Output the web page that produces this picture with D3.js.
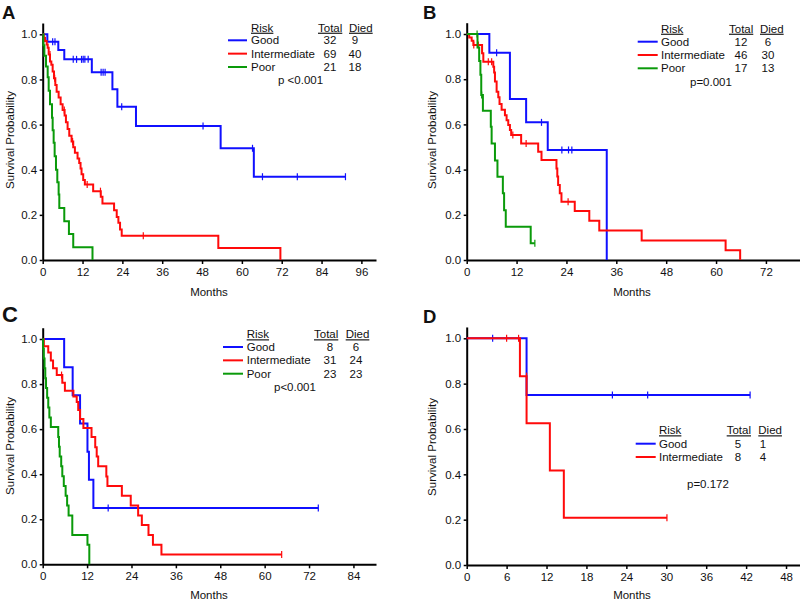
<!DOCTYPE html>
<html><head><meta charset="utf-8">
<script src="https://cdn.jsdelivr.net/npm/d3@7"></script>
<style>
body{margin:0;background:#fff}
svg{display:block}
text{font-family:"Liberation Sans",Arial,sans-serif;fill:#111}
</style>
</head><body>
<svg id="chart" width="800" height="600"></svg>
<script>
// ---------------- DATA ----------------
const panelLetters = ["A","B","C","D"];
const riskNames = ["Good","Intermediate","Poor"];
const riskColors = ["#1010ff","#ff0a0a","#0a9a0a"];
const pValues = ["p <0.001","p=0.001","p<0.001","p=0.172"];
const totalsA = [32,69,21], diedA = [9,40,18];
const totalsB = [12,46,17], diedB = [6,30,13];
const totalsC = [8,31,23],  diedC = [6,24,23];
const totalsD = [5,8],      diedD = [1,4];
const xTicksA = [0,12,24,36,48,60,72,84,96];
const xTicksB = [0,12,24,36,48,60,72];
const xTicksC = [0,12,24,36,48,60,72,84];
const xTicksD = [0,6,12,18,24,30,36,42,48];
const yTicks = [0,0.2,0.4,0.6,0.8,1.0];

// Kaplan-Meier steps: [month, survival after drop]
const aGoodSteps = [[1.4,0.967],[4.7,0.93],[6.5,0.889],[14.8,0.832],[21.0,0.756],[22.5,0.679],[28.1,0.594],[53.6,0.495],[63.6,0.369]];
const aGoodEnd = 91.2;
const aGoodCensor = [3.0,3.7,9.2,10.2,11.7,12.2,12.7,13.7,17.6,18.2,18.8,23.8,48.3,63.2,66.2,76.7,91.2];
const aInterSteps = [[0.3,0.985],[0.7,0.97],[1.2,0.955],[1.5,0.94],[1.8,0.91],[2.2,0.88],[2.6,0.865],[3.0,0.835],[3.4,0.805],[3.8,0.775],[4.2,0.745],[4.8,0.72],[5.4,0.69],[6.0,0.665],[6.6,0.64],[7.0,0.61],[7.5,0.58],[8.0,0.55],[8.7,0.525],[9.2,0.50],[9.7,0.475],[10.5,0.45],[11.0,0.43],[11.4,0.405],[11.7,0.38],[12.2,0.355],[12.7,0.335],[15.2,0.305],[17.5,0.28],[18.0,0.25],[21.5,0.22],[22.3,0.19],[22.8,0.165],[23.3,0.135],[23.8,0.107],[52.9,0.053],[71.6,0.0]];
const aInterEnd = 71.6;
const aInterCensor = [2.2,3.6,6.5,9.0,13.4,17.4,30.3];
const aPoorSteps = [[0.2,0.952],[0.5,0.905],[1.0,0.857],[1.5,0.81],[1.8,0.75],[2.2,0.69],[2.8,0.63],[3.0,0.575],[3.3,0.52],[3.6,0.46],[4.0,0.40],[4.4,0.345],[4.8,0.29],[5.0,0.23],[6.5,0.172],[7.9,0.115],[9.2,0.057],[15.0,0.0]];
const aPoorEnd = 15.0;
const aPoorCensor = [];

const bGoodSteps = [[5.45,0.917],[10.4,0.712],[14.3,0.609],[19.5,0.487],[33.7,0.0]];
const bGoodEnd = 33.7;
const bGoodCensor = [7.2,18.0,22.9,24.5,25.3];
const bInterSteps = [[0.6,0.985],[1.2,0.97],[1.6,0.951],[3.7,0.915],[4.0,0.877],[6.4,0.855],[6.6,0.83],[6.8,0.79],[7.2,0.745],[7.6,0.72],[7.9,0.69],[8.4,0.665],[9.2,0.64],[9.6,0.618],[10.0,0.597],[10.4,0.575],[10.7,0.553],[13.1,0.516],[17.2,0.479],[18.0,0.442],[21.6,0.405],[21.8,0.37],[22.0,0.332],[22.4,0.295],[22.8,0.258],[26.0,0.217],[29.5,0.174],[31.9,0.13],[42.1,0.086],[62.3,0.043],[65.8,0.0]];
const bInterEnd = 65.8;
const bInterCensor = [1.7,2.8,5.2,6.0,11.1,14.3,24.4];
const bPoorSteps = [[2.6,0.94],[3.0,0.88],[3.3,0.82],[3.5,0.73],[3.9,0.66],[5.8,0.59],[6.0,0.515],[6.8,0.44],[7.4,0.368],[8.7,0.295],[9.0,0.22],[9.4,0.147],[15.4,0.074]];
const bPoorEnd = 16.4;
const bPoorCensor = [2.5,3.6,16.4];

const cGoodSteps = [[5.8,0.875],[8.1,0.75],[10.1,0.625],[12.1,0.5],[12.5,0.375],[13.7,0.25]];
const cGoodEnd = 74.5;
const cGoodCensor = [17.7,74.5];
const cInterSteps = [[0.3,0.968],[1.5,0.94],[2.2,0.905],[2.8,0.87],[3.8,0.84],[5.3,0.806],[6.0,0.77],[8.3,0.745],[9.2,0.72],[9.6,0.685],[10.1,0.645],[11.0,0.605],[13.2,0.565],[14.2,0.52],[14.6,0.478],[15.0,0.435],[17.2,0.39],[17.5,0.348],[21.4,0.304],[23.8,0.261],[25.8,0.217],[26.8,0.174],[28.6,0.13],[29.8,0.087],[32.1,0.043]];
const cInterEnd = 64.6;
const cInterCensor = [5.1,64.6];
const cPoorSteps = [[0.1,0.957],[0.3,0.913],[0.5,0.87],[0.7,0.826],[0.9,0.783],[1.2,0.739],[1.5,0.696],[1.8,0.652],[2.2,0.609],[4.2,0.565],[4.4,0.522],[4.6,0.478],[5.0,0.435],[5.3,0.391],[5.7,0.348],[6.2,0.304],[6.6,0.261],[7.0,0.217],[8.0,0.13],[12.1,0.087],[12.6,0.0]];
const cPoorEnd = 12.6;
const cPoorCensor = [];

const dGoodSteps = [[9.0,0.75]];
const dGoodEnd = 42.6;
const dGoodCensor = [3.9,21.9,27.2,42.6];
const dInterSteps = [[8.0,0.833],[9.0,0.625],[12.5,0.417],[14.6,0.208]];
const dInterEnd = 30.1;
const dInterCensor = [6.0,7.8,9.0,30.1];

// ---------------- LAYOUT ----------------
const panels = [
  {letter:panelLetters[0], lx:2, ly:18.5, lsize:18.5, x0:42.7, xEnd:376, xMax:100.4, y0:260, y1:34.3, ticks:xTicksA,
   yLab:[10,140], mLab:[209,296], p:pValues[0], px:278, py:84,
   curves:[[aGoodSteps,aGoodEnd,aGoodCensor],[aInterSteps,aInterEnd,aInterCensor],[aPoorSteps,aPoorEnd,aPoorCensor]],
   totals:totalsA, died:diedA,
   leg:{lineX:228, lineW:19, labX:251, hdrY:31.7, rowY:44.3, dy:13.35, totX:318, diedX:349, numTot:330, numDied:355}},
  {letter:panelLetters[1], lx:423, ly:18.5, lsize:18.5, x0:466.7, xEnd:800, xMax:80.2, y0:260, y1:34, ticks:xTicksB,
   yLab:[432,140], mLab:[632,296], p:pValues[1], px:690, py:85.5,
   curves:[[bGoodSteps,bGoodEnd,bGoodCensor],[bInterSteps,bInterEnd,bInterCensor],[bPoorSteps,bPoorEnd,bPoorCensor]],
   totals:totalsB, died:diedB,
   leg:{lineX:637.7, lineW:20, labX:661, hdrY:32.7, rowY:45.7, dy:13.3, totX:729, diedX:760, numTot:741, numDied:768}},
  {letter:panelLetters[2], lx:2, ly:322, lsize:22, x0:42.7, xEnd:376, xMax:90.1, y0:564.3, y1:339, ticks:xTicksC,
   yLab:[10,446], mLab:[209,599], p:pValues[2], px:274, py:391,
   curves:[[cGoodSteps,cGoodEnd,cGoodCensor],[cInterSteps,cInterEnd,cInterCensor],[cPoorSteps,cPoorEnd,cPoorCensor]],
   totals:totalsC, died:diedC,
   leg:{lineX:223, lineW:20, labX:246.7, hdrY:338.3, rowY:351, dy:13.35, totX:314, diedX:345.7, numTot:330, numDied:356}},
  {letter:panelLetters[3], lx:423, ly:322.5, lsize:18.5, x0:466.7, xEnd:800, xMax:50.1, y0:565, y1:338.3, ticks:xTicksD,
   yLab:[432,447], mLab:[632,599], p:pValues[3], px:687, py:488,
   curves:[[dGoodSteps,dGoodEnd,dGoodCensor],[dInterSteps,dInterEnd,dInterCensor]],
   totals:totalsD, died:diedD,
   leg:{lineX:635.7, lineW:20, labX:659, hdrY:434.3, rowY:447.7, dy:13.3, totX:726.7, diedX:758.3, numTot:738, numDied:763}}
];

const svg = d3.select("#chart");
const FS = "11.5px";

function survAt(steps, t){
  let s = 1;
  for (const [ti, si] of steps){ if (ti < t) s = si; else break; }
  return s;
}
function stepPoints(steps, end){
  const pts = [[0,1]];
  let prev = 1;
  for (const [t,s] of steps){ pts.push([t,prev]); pts.push([t,s]); prev = s; }
  const lastT = steps.length ? steps[steps.length-1][0] : 0;
  if (end > lastT) pts.push([end, prev]);
  return pts;
}

panels.forEach(P => {
  const g = svg.append("g");
  const x = d3.scaleLinear().domain([0, P.xMax]).range([P.x0, P.xEnd]);
  const y = d3.scaleLinear().domain([0, 1]).range([P.y0, P.y1]);
  const yTop = 1.05;

  // panel letter
  g.append("text").attr("x", P.lx).attr("y", P.ly)
    .style("font-family", "'Liberation Sans',Arial,sans-serif")
    .style("font-weight", "700").style("font-size", P.lsize + "px").style("fill","#111")
    .text(P.letter);

  // axes
  const xAxis = d3.axisBottom(x).tickValues(P.ticks).tickFormat(d3.format("d"))
    .tickSize(4).tickSizeOuter(0).tickPadding(4);
  const yScaleAxis = d3.scaleLinear().domain([0, yTop]).range([P.y0, y(yTop)]);
  const yAxis = d3.axisLeft(yScaleAxis).tickValues(yTicks).tickFormat(d3.format(".1f"))
    .tickSize(3).tickSizeOuter(0).tickPadding(2.5);

  const gx = g.append("g").attr("transform", `translate(0,${P.y0})`).call(xAxis);
  const gy = g.append("g").attr("transform", `translate(${P.x0},0)`).call(yAxis);
  [gx, gy].forEach(a => {
    a.select(".domain").attr("stroke", "#000").attr("stroke-width", 2);
    a.selectAll(".tick line").attr("stroke", "#000").attr("stroke-width", 1.5);
    a.selectAll(".tick text").style("font-size", FS).style("font-family", "'Liberation Sans',Arial,sans-serif").attr("fill", "#111");
  });

  // axis titles
  g.append("text").attr("transform", `translate(${P.yLab[0]},${P.yLab[1]}) rotate(-90)`)
    .attr("text-anchor", "middle").attr("dominant-baseline", "central")
    .style("font-size", FS).text("Survival Probability");
  g.append("text").attr("x", P.mLab[0]).attr("y", P.mLab[1])
    .attr("text-anchor", "middle").style("font-size", FS).text("Months");

  // curves
  const line = d3.line().x(d => x(d[0])).y(d => y(d[1]));
  P.curves.forEach((c, i) => {
    const [steps, end, cens] = c;
    g.append("path").datum(stepPoints(steps, end))
      .attr("d", line).attr("fill", "none")
      .attr("stroke", riskColors[i]).attr("stroke-width", 2);
    g.selectAll(null).data(cens).enter().append("line")
      .attr("x1", d => x(d)).attr("x2", d => x(d))
      .attr("y1", d => y(survAt(steps, d)) - 3.5)
      .attr("y2", d => y(survAt(steps, d)) + 3.5)
      .attr("stroke", riskColors[i]).attr("stroke-width", 1.2);
  });

  // legend
  const L = P.leg;
  const hdr = [["Risk", L.labX], ["Total", L.totX], ["Died", L.diedX]];
  hdr.forEach(([t, xx]) => {
    g.append("text").attr("x", xx).attr("y", L.hdrY)
      .style("font-size", FS).style("text-decoration", "underline").text(t);
  });
  P.totals.forEach((tot, i) => {
    const by = L.rowY + i * L.dy;
    g.append("line").attr("x1", L.lineX).attr("x2", L.lineX + L.lineW)
      .attr("y1", by - 4).attr("y2", by - 4)
      .attr("stroke", riskColors[i]).attr("stroke-width", 2);
    g.append("text").attr("x", L.labX).attr("y", by).style("font-size", FS).text(riskNames[i]);
    g.append("text").attr("x", L.numTot).attr("y", by).attr("text-anchor", "middle").style("font-size", FS).text(tot);
    g.append("text").attr("x", L.numDied).attr("y", by).attr("text-anchor", "middle").style("font-size", FS).text(P.died[i]);
  });
  g.append("text").attr("x", P.px).attr("y", P.py).style("font-size", FS).text(P.p);
});
</script>
</body></html>
